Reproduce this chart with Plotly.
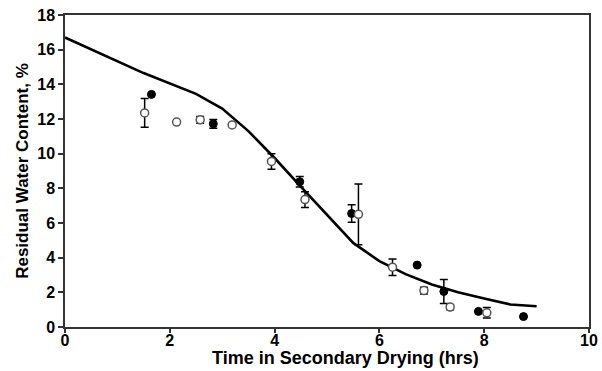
import plotly.graph_objects as go

# Model curve
model_x = [0, 1.5, 2.5, 3.0, 3.5, 4.0, 4.5, 5.0, 5.5, 6.0, 6.5, 7.0, 7.5, 8.0, 8.5, 9.0]
model_y = [16.7, 14.65, 13.45, 12.6, 11.3, 9.75, 8.1, 6.45, 4.85, 3.8, 3.05, 2.45, 2.0, 1.64, 1.3, 1.2]

# Open-symbol data
open_x = [1.52, 2.13, 2.58, 3.19, 3.94, 4.58, 5.6, 6.25, 6.85, 7.35, 8.05]
open_y = [12.35, 11.82, 11.95, 11.66, 9.55, 7.35, 6.5, 3.45, 2.1, 1.15, 0.82]
open_err = [0.83, 0.0, 0.2, 0.0, 0.45, 0.45, 1.75, 0.48, 0.2, 0.15, 0.3]

# Filled-symbol data
fill_x = [1.65, 2.83, 4.48, 5.47, 6.72, 7.23, 7.89, 8.75]
fill_y = [13.42, 11.72, 8.38, 6.55, 3.57, 2.05, 0.9, 0.6]
fill_err = [0.0, 0.25, 0.3, 0.5, 0.0, 0.69, 0.0, 0.0]

x_ticks = [0, 2, 4, 6, 8, 10]
y_ticks = [0, 2, 4, 6, 8, 10, 12, 14, 16, 18]

x_title = "Time in Secondary Drying (hrs)"
y_title = "Residual Water Content, %"

fig = go.Figure()
fig.add_trace(go.Scatter(
    x=model_x, y=model_y, mode="lines",
    line=dict(color="black", width=2.6), showlegend=False))
fig.add_trace(go.Scatter(
    x=fill_x, y=fill_y, mode="markers",
    marker=dict(symbol="circle", size=8, color="black",
                line=dict(color="black", width=1)),
    error_y=dict(type="data", array=fill_err, color="black", thickness=1.5, width=4),
    showlegend=False))
fig.add_trace(go.Scatter(
    x=open_x, y=open_y, mode="markers",
    marker=dict(symbol="circle", size=8, color="white",
                line=dict(color="#555555", width=1.5)),
    error_y=dict(type="data", array=open_err, color="black", thickness=1.5, width=4),
    showlegend=False))

font_family = "Liberation Sans, Arial, sans-serif"
fig.update_layout(
    width=602, height=371,
    margin=dict(l=65, r=13, t=15, b=44),
    paper_bgcolor="white", plot_bgcolor="white",
    font=dict(family=font_family, color="black"),
    xaxis=dict(
        range=[0, 10], tickvals=x_ticks, ticktext=[f"<b>{v}</b>" for v in x_ticks],
        ticks="outside", ticklen=4, tickwidth=1.5, tickcolor="#333",
        showline=True, linecolor="#333", linewidth=1.5, mirror=True,
        showgrid=False, zeroline=False, automargin=False,
        ticklabelstandoff=-6,
        tickfont=dict(size=16, family=font_family),
    ),
    yaxis=dict(
        range=[0, 18], tickvals=y_ticks, ticktext=[f"<b>{v}</b>" for v in y_ticks],
        ticks="outside", ticklen=5, tickwidth=1.5, tickcolor="#333",
        showline=True, linecolor="#333", linewidth=1.5, mirror=True,
        showgrid=False, zeroline=False, automargin=False,
        tickfont=dict(size=16, family=font_family),
        title=dict(text=f"<b>{y_title}</b>",
                   font=dict(size=17, family=font_family), standoff=4),
    ),
    annotations=[dict(
        text=f"<b>{x_title}</b>", xref="paper", yref="paper",
        x=0.536, y=-0.1, xanchor="center", yanchor="middle",
        showarrow=False, font=dict(size=18, family=font_family, color="black"),
    )],
)

fig.write_html("out.html")
